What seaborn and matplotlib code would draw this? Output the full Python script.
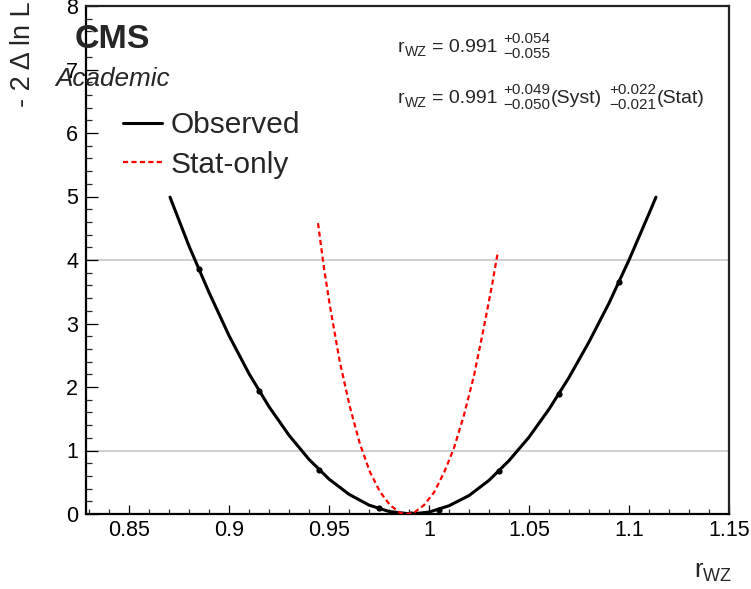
import matplotlib
matplotlib.use("Agg")
import matplotlib.pyplot as plt
import seaborn as sns
import pandas as pd
from matplotlib.ticker import MultipleLocator, FixedLocator, FixedFormatter
from matplotlib.transforms import IdentityTransform

# ---- data ----
obs_x = [0.8705, 0.88, 0.89, 0.90, 0.91, 0.92, 0.93, 0.94, 0.95, 0.96, 0.97, 0.98, 0.991,
         1.00, 1.01, 1.02, 1.03, 1.04, 1.05, 1.06, 1.07, 1.08, 1.09, 1.10, 1.11, 1.1135]
obs_y = [4.99, 4.22, 3.49, 2.81, 2.21, 1.69, 1.24, 0.86, 0.55, 0.31, 0.14, 0.04, 0.0,
         0.03, 0.13, 0.29, 0.53, 0.84, 1.21, 1.65, 2.15, 2.71, 3.32, 4.00, 4.73, 4.99]

scan_x = [0.885, 0.915, 0.945, 0.975, 0.991, 1.005, 1.035, 1.065, 1.095]
scan_y = [3.86, 1.94, 0.69, 0.09, 0.0, 0.07, 0.68, 1.89, 3.65]

stat_x = [0.9445, 0.9475, 0.9505, 0.9555, 0.9605, 0.9655, 0.9705, 0.9755, 0.9805, 0.9855,
          0.989, 0.9925, 0.9975, 1.0025, 1.0075, 1.0125, 1.0175, 1.0225, 1.0275, 1.0315, 1.0345]
stat_y = [4.58, 3.87, 3.27, 2.38, 1.68, 1.10, 0.66, 0.35, 0.14, 0.02,
          0.0, 0.02, 0.14, 0.34, 0.65, 1.04, 1.56, 2.18, 2.95, 3.60, 4.14]

ref_levels = [1, 4]
x_ticks = [0.85, 0.90, 0.95, 1.00, 1.05, 1.10, 1.15]
x_tick_labels = ["0.85", "0.9", "0.95", "1", "1.05", "1.1", "1.15"]
y_ticks = [0, 1, 2, 3, 4, 5, 6, 7, 8]
y_tick_labels = ["0", "1", "2", "3", "4", "5", "6", "7", "8"]

central = "0.991"
tot_up, tot_dn = "+0.054", "\u22120.055"
syst_up, syst_dn = "+0.049", "\u22120.050"
stat_up, stat_dn = "+0.022", "\u22120.021"

obs_df = pd.DataFrame({"x": obs_x, "y": obs_y})
scan_df = pd.DataFrame({"x": scan_x, "y": scan_y})
stat_df = pd.DataFrame({"x": stat_x, "y": stat_y})

# ---- style ----
sns.set_style("white")
plt.rcParams["font.family"] = ["Liberation Sans", "DejaVu Sans"]
plt.rcParams["mathtext.fontset"] = "custom"
plt.rcParams["mathtext.rm"] = "Liberation Sans"
plt.rcParams["mathtext.it"] = "Liberation Sans:italic"
plt.rcParams["mathtext.bf"] = "Liberation Sans:bold"
plt.rcParams["mathtext.default"] = "regular"

W, H = 751, 589
fig = plt.figure(figsize=(W / 100, H / 100), dpi=100)
ax_l, ax_r, ax_t, ax_b = 86, 729, 6, 514
ax = fig.add_axes([ax_l / W, 1 - ax_b / H, (ax_r - ax_l) / W, (ax_b - ax_t) / H])

for lv in ref_levels:
    ax.axhline(lv, color="#c8c8c8", lw=1.2, zorder=0)

sns.lineplot(data=obs_df, x="x", y="y", ax=ax, color="black", lw=2.2,
             sort=False, estimator=None, label="Observed", zorder=3)
sns.scatterplot(data=scan_df, x="x", y="y", ax=ax, color="black", s=20,
                edgecolor="black", linewidth=0, zorder=4, legend=False)
sns.lineplot(data=stat_df, x="x", y="y", ax=ax, color="#ff0000", lw=1.6,
             sort=False, estimator=None, label="Stat-only", zorder=5,
             dashes=False)
ax.lines[-1].set_dashes((2.3, 1.5))

ax.set_xlim(0.8285, 1.15)
ax.set_ylim(0, 8)
ax.xaxis.set_major_locator(FixedLocator(x_ticks))
ax.xaxis.set_major_formatter(FixedFormatter(x_tick_labels))
ax.xaxis.set_minor_locator(MultipleLocator(0.01))
ax.yaxis.set_major_locator(FixedLocator(y_ticks))
ax.yaxis.set_major_formatter(FixedFormatter(y_tick_labels))
ax.yaxis.set_minor_locator(MultipleLocator(0.2))

ax.tick_params(axis="x", which="major", direction="in", length=6.8, width=0.9,
               labelsize=15.5, pad=4.5, colors="black", bottom=True, top=False)
ax.tick_params(axis="x", which="minor", direction="in", length=3.4, width=0.9,
               bottom=True, top=False)
ax.tick_params(axis="y", which="major", direction="in", length=8.6, width=0.9,
               labelsize=15.5, pad=5.5, colors="black", left=True, right=False)
ax.tick_params(axis="y", which="minor", direction="in", length=4.6, width=0.9,
               left=True, right=False)

for s in ax.spines.values():
    s.set_visible(True)
    s.set_color("black")
    s.set_linewidth(1.6)
ax.spines["top"].set_color("#222222")
ax.spines["right"].set_color("#222222")

ax.set_xlabel("")
ax.set_ylabel("")

leg = ax.legend(loc="upper left", bbox_to_anchor=(123 / W, 1 - 111 / H),
                bbox_transform=fig.transFigure, frameon=False, fontsize=21.5,
                handlelength=1.3, handletextpad=0.3, labelspacing=0.4,
                borderpad=0, borderaxespad=0)

# ---- texts ----
fig.text(75 / W, 1 - 48 / H, "CMS", fontsize=24.5, fontweight="bold",
         ha="left", va="baseline")
fig.text(55 / W, 1 - 86 / H, "Academic", fontsize=18.8, fontstyle="italic",
         ha="left", va="baseline")
fig.text(23.5 / W, 1 - 1 / H, "- 2 \u0394 ln L", fontsize=19.5, rotation=90,
         ha="center", va="top")
fig.text(732 / W, 1 - 578 / H, r"$r_{WZ}$", fontsize=18.5,
         ha="right", va="baseline")

# rich text lines (ROOT TLatex-like) laid out piece by piece, in pixels
MAIN, SCRIPT = 14.0, 11.0
renderer = fig.canvas.get_renderer()
ident = IdentityTransform()


def put(x, ybase_px, s, size):
    t = fig.text(x, H - ybase_px, s, fontsize=size, transform=ident,
                 ha="left", va="baseline")
    return t.get_window_extent(renderer).width


def rich_line(x0, ybase, pieces):
    x = x0
    for p in pieces:
        kind = p[0]
        if kind == "m":
            x += put(x, ybase, p[1], MAIN)
        elif kind == "sub":
            x += put(x, ybase + 4, p[1], SCRIPT * 0.92)
        elif kind == "gap":
            x += p[1]
        elif kind == "stack":
            w1 = put(x, ybase - 9, p[1], SCRIPT)
            w2 = put(x, ybase + 6, p[2], SCRIPT)
            x += max(w1, w2)


rich_line(398, 52, [("m", "r"), ("sub", "WZ"), ("gap", 5), ("m", "= " + central),
                    ("gap", 6), ("stack", tot_up, tot_dn)])
rich_line(398, 103, [("m", "r"), ("sub", "WZ"), ("gap", 5), ("m", "= " + central),
                     ("gap", 6), ("stack", syst_up, syst_dn), ("gap", 1),
                     ("m", "(Syst)"), ("gap", 7), ("stack", stat_up, stat_dn),
                     ("gap", 1), ("m", "(Stat)")])

fig.savefig("out.png", dpi=100)
